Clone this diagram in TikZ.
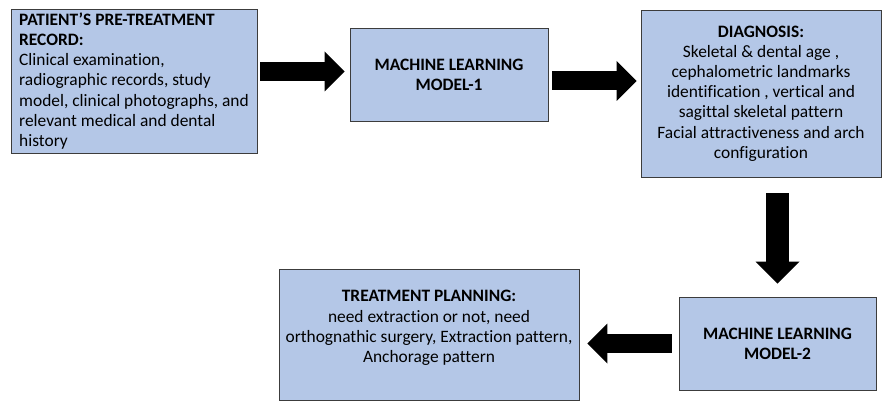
\documentclass[tikz,border=0pt]{standalone}
\usepackage{fontspec}
\setmainfont{Carlito}[Ligatures=NoCommon]
\usetikzlibrary{arrows.meta}
\definecolor{boxblue}{RGB}{180,199,231}
\definecolor{boxline}{RGB}{60,60,60}

\begin{document}
\begin{tikzpicture}[x=1pt,y=-1pt,
    stagebox/.style={draw=boxline, fill=boxblue, line width=0.9pt, align=center, inner sep=0pt,
      font=\fontsize{17.4}{20.2}\selectfont},
    blockarrow/.style={draw=black, line width=19pt, -{Triangle[length=20pt,width=40pt,line width=0pt]}}]
  \useasboundingbox (0,0) rectangle (882,401);

  % Stage boxes
  \node[stagebox, align=left, minimum width=246pt, minimum height=144pt] (record) at (134,81)
    {\textbf{PATIENT’S PRE-TREATMENT}\\\textbf{RECORD:}\\Clinical examination,\\radiographic records, study\\model, clinical photographs, and\\relevant medical and dental\\history};
  \node[stagebox, minimum width=198pt, minimum height=93pt] (model1) at (449,74.5)
    {\textbf{MACHINE LEARNING}\\\textbf{MODEL-1}};
  \node[stagebox, minimum width=240pt, minimum height=167pt] (diagnosis) at (761,93.5)
    {\textbf{DIAGNOSIS:}\\Skeletal \& dental age ,\\cephalometric landmarks\\identification , vertical and\\sagittal skeletal pattern\\Facial attractiveness and arch\\configuration};
  \node[stagebox, minimum width=197pt, minimum height=93pt] (model2) at (777.5,343.5)
    {\textbf{MACHINE LEARNING}\\\textbf{MODEL-2}};
  \node[stagebox, minimum width=300pt, minimum height=131pt] (planning) at (429,334.5)
    {\textbf{TREATMENT PLANNING:}\\need extraction or not, need\\orthognathic surgery, Extraction pattern,\\Anchorage pattern\\[-4pt]\mbox{}};

  % Block arrows
  \draw[blockarrow, shorten <=3pt, shorten >=5pt]
    ([yshift=3pt]record.east |- model1.west) -- ([yshift=3pt]model1.west);
  \draw[blockarrow, shorten <=4pt, shorten >=4pt]
    ([yshift=-6.5pt]model1.east) -- ([yshift=-6.5pt]model1.east -| diagnosis.west);
  \draw[blockarrow, line width=23pt, -{Triangle[length=22pt,width=44pt,line width=0pt]},
    shorten <=16pt, shorten >=13pt]
    (diagnosis.south -| model2.north) -- (model2.north);
  \draw[blockarrow, shorten <=7pt, shorten >=8pt]
    (model2.west) -- (planning.east |- model2.west);
\end{tikzpicture}
\end{document}
